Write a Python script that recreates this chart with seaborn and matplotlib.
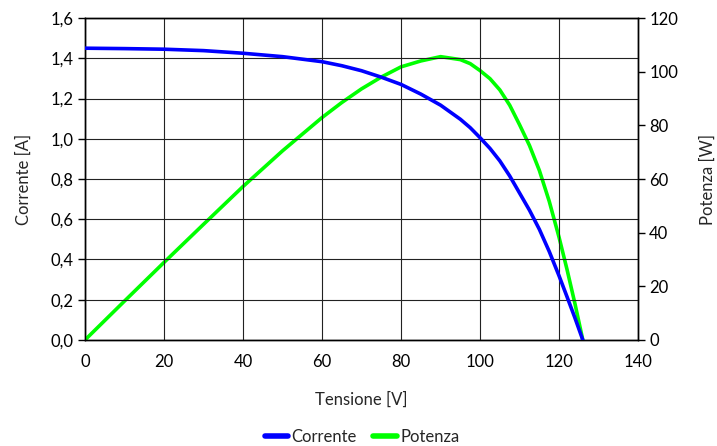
import numpy as np
import pandas as pd
import matplotlib
matplotlib.use('Agg')
import matplotlib.pyplot as plt
import seaborn as sns
from matplotlib.ticker import FuncFormatter
from matplotlib.lines import Line2D

# data
tensione = [0, 10, 20, 30, 40, 50, 60, 65, 70, 75, 80, 85, 90, 95, 97.5, 100, 102.5, 105, 107.5,
            110, 112.5, 115, 117.5, 120, 122, 124, 126]
corrente = [1.450, 1.448, 1.445, 1.438, 1.425, 1.408, 1.383, 1.363, 1.338, 1.306, 1.27, 1.222,
            1.167, 1.097, 1.055, 1.005, 0.952, 0.89, 0.815, 0.73, 0.645, 0.55, 0.44, 0.318,
            0.215, 0.11, 0.0]
potenza = [0, 14.5, 28.9, 43.1, 57.2, 70.5, 82.9, 88.5, 93.6, 98.0, 101.8, 104.0, 105.6, 104.5,
           103.0, 100.4, 97.4, 93.2, 87.5, 80.2, 72.5, 63.2, 51.7, 38.2, 26.3, 13.6, 0.0]

df = pd.DataFrame({'Tensione': tensione, 'Corrente': corrente, 'Potenza': potenza})

sns.set_style('white')
plt.rcParams['font.family'] = ['Lato', 'DejaVu Sans']
fs = 12

fig = plt.figure(figsize=(7.17, 4.46), dpi=100)
ax = fig.add_axes([0.1185, 0.2377, 0.7715, 0.7219])
ax2 = ax.twinx()

# grid
for v in np.arange(0, 141, 20):
    ax.axvline(v, color='#222222', lw=0.8, zorder=0)
for h in np.arange(0, 1.61, 0.2):
    ax.axhline(h, color='#222222', lw=0.8, zorder=0)

sns.lineplot(data=df, x='Tensione', y='Corrente', ax=ax, color='#0000ff', lw=2.6, zorder=3)
sns.lineplot(data=df, x='Tensione', y='Potenza', ax=ax2, color='#00ff00', lw=2.6, zorder=3)

ax.set_xlim(0, 140)
ax.set_ylim(0, 1.6)
ax2.set_ylim(0, 120)
ax.set_xticks(np.arange(0, 141, 20))
ax.set_yticks(np.arange(0, 1.61, 0.2))
ax2.set_yticks(np.arange(0, 121, 20))
ax.yaxis.set_major_formatter(FuncFormatter(lambda v, p: f'{v:.1f}'.replace('.', ',')))

ax.set_xlabel('Tensione [V]', fontsize=fs)
ax.set_ylabel('Corrente [A]', fontsize=fs)
ax2.set_ylabel('Potenza [W]', fontsize=fs)
ax.xaxis.set_label_coords(0.5, -0.16)
ax.yaxis.set_label_coords(-0.097, 0.5)
ax2.yaxis.set_label_coords(1.111, 0.5)

for a in (ax, ax2):
    for s in a.spines.values():
        s.set_color('black')
        s.set_linewidth(1.0)
    a.tick_params(direction='out', length=5, width=1, colors='black', labelsize=fs, pad=3)
ax.tick_params(axis='x', pad=5)

# current line above power axes
ax.set_zorder(ax2.get_zorder() + 1)
ax.patch.set_visible(False)

handles = [Line2D([], [], color='#0000ff', lw=4), Line2D([], [], color='#00ff00', lw=4)]
fig.legend(handles, ['Corrente', 'Potenza'], loc='center', bbox_to_anchor=(0.505, 0.02),
           ncol=2, frameon=False, handlelength=1.4, handletextpad=0.2, columnspacing=1.0, fontsize=fs)

fig.savefig('out.png', dpi=100)
